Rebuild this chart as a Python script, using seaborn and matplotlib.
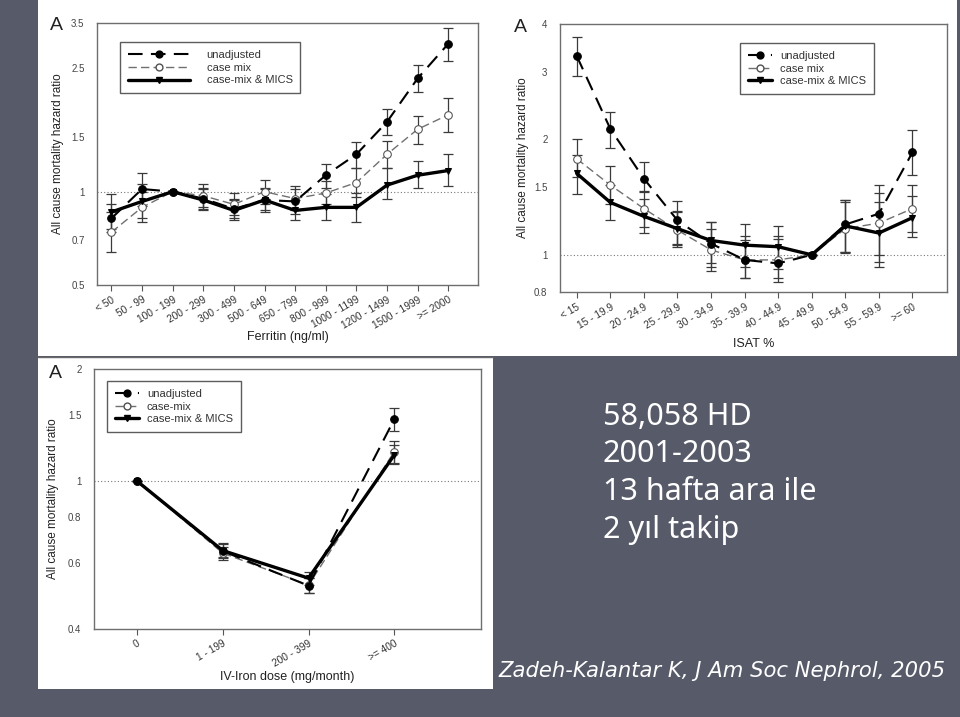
import numpy as np
import pandas as pd
import matplotlib
matplotlib.use("Agg")
import matplotlib.pyplot as plt
import seaborn as sns
from matplotlib.lines import Line2D
from matplotlib.patches import Rectangle
from matplotlib.ticker import FixedLocator, FixedFormatter, NullLocator

# ---------------- data ----------------
fer_cats = ["< 50", "50 - 99", "100 - 199", "200 - 299", "300 - 499", "500 - 649",
            "650 - 799", "800 - 999", "1000 - 1199", "1200 - 1499", "1500 - 1999", ">= 2000"]
fer_unadj = [0.82, 1.02, 1.00, 0.95, 0.88, 0.94, 0.93, 1.13, 1.32, 1.68, 2.32, 3.00]
fer_unadj_lo = [0.74, 0.90, 1.00, 0.88, 0.82, 0.86, 0.85, 1.03, 1.19, 1.52, 2.09, 2.64]
fer_unadj_hi = [0.91, 1.15, 1.00, 1.03, 0.95, 1.03, 1.02, 1.23, 1.45, 1.85, 2.56, 3.38]
fer_case = [0.74, 0.89, 1.00, 0.97, 0.91, 1.00, 0.95, 0.99, 1.07, 1.32, 1.59, 1.77]
fer_case_lo = [0.64, 0.80, 1.00, 0.89, 0.84, 0.91, 0.87, 0.91, 0.96, 1.19, 1.43, 1.56]
fer_case_hi = [0.86, 1.00, 1.00, 1.06, 0.99, 1.09, 1.04, 1.08, 1.19, 1.46, 1.76, 2.01]
fer_mics = [0.86, 0.93, 1.00, 0.94, 0.87, 0.94, 0.87, 0.89, 0.89, 1.05, 1.13, 1.17]
fer_mics_lo = [0.76, 0.82, 1.00, 0.87, 0.81, 0.87, 0.81, 0.81, 0.80, 0.95, 1.03, 1.04]
fer_mics_hi = [0.98, 1.06, 1.00, 1.02, 0.94, 1.02, 0.94, 0.98, 0.99, 1.19, 1.26, 1.32]
fer_yticks = [0.5, 0.7, 1, 1.5, 2.5, 3.5]
fer_ytick_labels = ["0.5", "0.7", "1", "1.5", "2.5", "3.5"]

isat_cats = ["< 15", "15 - 19.9", "20 - 24.9", "25 - 29.9", "30 - 34.9", "35 - 39.9",
             "40 - 44.9", "45 - 49.9", "50 - 54.9", "55 - 59.9", ">= 60"]
isat_unadj = [3.30, 2.13, 1.58, 1.23, 1.07, 0.97, 0.95, 1.00, 1.20, 1.28, 1.85]
isat_unadj_lo = [2.92, 1.90, 1.46, 1.07, 0.93, 0.87, 0.85, 1.00, 1.02, 0.93, 1.62]
isat_unadj_hi = [3.69, 2.36, 1.75, 1.38, 1.22, 1.12, 1.12, 1.00, 1.39, 1.52, 2.12]
isat_case = [1.78, 1.52, 1.32, 1.16, 1.03, 0.97, 0.97, 1.00, 1.17, 1.21, 1.32]
isat_case_lo = [1.60, 1.36, 1.18, 1.05, 0.91, 0.87, 0.87, 1.00, 1.01, 1.00, 1.15]
isat_case_hi = [2.00, 1.70, 1.47, 1.29, 1.17, 1.09, 1.10, 1.00, 1.37, 1.45, 1.52]
isat_mics = [1.63, 1.37, 1.26, 1.17, 1.09, 1.06, 1.05, 1.00, 1.19, 1.14, 1.25]
isat_mics_lo = [1.44, 1.23, 1.14, 1.06, 0.95, 0.93, 0.92, 1.00, 1.02, 0.96, 1.11]
isat_mics_hi = [1.82, 1.52, 1.40, 1.30, 1.22, 1.20, 1.19, 1.00, 1.39, 1.37, 1.42]
isat_yticks = [0.8, 1, 1.5, 2, 3, 4]
isat_ytick_labels = ["0.8", "1", "1.5", "2", "3", "4"]

iron_cats = ["0", "1 - 199", "200 - 399", ">= 400"]
iron_unadj = [1.00, 0.648, 0.523, 1.466]
iron_unadj_lo = [1.00, 0.620, 0.500, 1.360]
iron_unadj_hi = [1.00, 0.680, 0.550, 1.570]
iron_case = [1.00, 0.640, 0.525, 1.200]
iron_case_lo = [1.00, 0.615, 0.500, 1.120]
iron_case_hi = [1.00, 0.665, 0.550, 1.280]
iron_mics = [1.00, 0.650, 0.548, 1.175]
iron_mics_lo = [1.00, 0.625, 0.525, 1.110]
iron_mics_hi = [1.00, 0.675, 0.570, 1.250]
iron_yticks = [0.4, 0.6, 0.8, 1, 1.5, 2]
iron_ytick_labels = ["0.4", "0.6", "0.8", "1", "1.5", "2"]

labels_top = ["unadjusted", "case mix", "case-mix & MICS"]
labels_bottom = ["unadjusted", "case-mix", "case-mix & MICS"]
slide_lines = ["58,058 HD", "2001-2003", "13 hafta ara ile", "2 y\u0131l takip"]
citation = "Zadeh-Kalantar K, J Am Soc Nephrol, 2005"

# ---------------- style ----------------
sns.set_theme(style="white")
plt.rcParams["font.family"] = ["Liberation Sans", "DejaVu Sans"]

W, H = 960, 717
BG = "#575a69"
fig = plt.figure(figsize=(W / 100, H / 100), dpi=100)
fig.patch.set_facecolor(BG)


def px_rect(x0, y0, x1, y1):
    return [x0 / W, 1 - y1 / H, (x1 - x0) / W, (y1 - y0) / H]


# white picture panels
for (x0, y0, x1, y1) in [(38, 0, 957, 356), (38, 357, 493, 689)]:
    r = px_rect(x0, y0, x1, y1)
    fig.add_artist(Rectangle((r[0], r[1]), r[2], r[3], transform=fig.transFigure,
                             facecolor="white", edgecolor="none", zorder=-5))
fig.add_artist(Line2D([38 / W, 493 / W], [1 - 356.5 / H] * 2, transform=fig.transFigure,
                      color="#6a6a6a", lw=1.0, zorder=-4))

STY = {
    "unadj": dict(color="black", lw=1.5, ls=(0, (7, 4)), marker="o", ms=5.5,
                  mfc="black", mec="black", z=4),
    "case": dict(color="#707070", lw=1.0, ls=(0, (6, 3)), marker="o", ms=5.5,
                 mfc="white", mec="#505050", z=3),
    "mics": dict(color="black", lw=2.4, ls="-", marker="v", ms=4.5,
                 mfc="black", mec="black", z=5),
}


def draw_series(ax, y, lo, hi, key):
    s = STY[key]
    x = np.arange(len(y))
    df = pd.DataFrame({"x": x, "y": y})
    sns.lineplot(data=df, x="x", y="y", ax=ax, color=s["color"], linewidth=s["lw"],
                 linestyle=s["ls"], marker=s["marker"], markersize=s["ms"],
                 markerfacecolor=s["mfc"], markeredgecolor=s["mec"], zorder=s["z"],
                 legend=False, errorbar=None)
    y = np.asarray(y)
    ax.errorbar(x, y, yerr=[y - np.asarray(lo), np.asarray(hi) - y], fmt="none",
                ecolor="#3a3a3a", elinewidth=0.9, capsize=3.5, capthick=0.9, zorder=2)


def setup_axes(ax, cats, yticks, ylabels, ylim, xlim, xlabel, xlab_y, ylab_x, rot):
    ax.set_yscale("log")
    ax.set_ylim(*ylim)
    ax.set_xlim(*xlim)
    ax.yaxis.set_major_locator(FixedLocator(yticks))
    ax.yaxis.set_major_formatter(FixedFormatter(ylabels))
    ax.yaxis.set_minor_locator(NullLocator())
    ax.set_xticks(np.arange(len(cats)))
    ax.set_xticklabels(cats, rotation=rot, ha="right", rotation_mode="anchor")
    ax.tick_params(axis="x", which="major", direction="out", length=4, width=0.8,
                   color="#555555", labelsize=7.3, labelcolor="#333333", pad=3, bottom=True)
    ax.tick_params(axis="y", which="major", direction="out", length=0, labelsize=7,
                   labelcolor="#444444", pad=9, left=True)
    for sp in ax.spines.values():
        sp.set_color("#6e6e6e")
        sp.set_linewidth(1.0)
    ax.axhline(1.0, color="#777777", lw=0.8, ls=(0, (1, 2)), zorder=1)
    ax.set_xlabel(xlabel, fontsize=9, color="#222222")
    ax.xaxis.set_label_coords(0.5, xlab_y)
    ax.set_ylabel("All cause mortality hazard ratio", fontsize=8.5, color="#222222")
    ax.yaxis.set_label_coords(ylab_x, 0.5)


def add_legend(ax, labels, anchor, handlelength, handletextpad, fontsize):
    hs = []
    for key in ["unadj", "case", "mics"]:
        s = STY[key]
        hs.append(Line2D([], [], color=s["color"], lw=s["lw"], ls=s["ls"], marker=s["marker"],
                         ms=s["ms"], mfc=s["mfc"], mec=s["mec"]))
    leg = ax.legend(hs, labels, loc="upper left", bbox_to_anchor=anchor, frameon=True,
                    fancybox=False, edgecolor="#333333", fontsize=fontsize,
                    handlelength=handlelength, handletextpad=handletextpad,
                    labelspacing=0.25, borderpad=0.7, borderaxespad=0.0, markerscale=0.9)
    leg.get_frame().set_linewidth(1.0)
    for t in leg.get_texts():
        t.set_color("#333333")


# ---- panel 1 : ferritin ----
ax1 = fig.add_axes(px_rect(97, 23, 478, 285))
draw_series(ax1, fer_case, fer_case_lo, fer_case_hi, "case")
draw_series(ax1, fer_unadj, fer_unadj_lo, fer_unadj_hi, "unadj")
draw_series(ax1, fer_mics, fer_mics_lo, fer_mics_hi, "mics")
setup_axes(ax1, fer_cats, fer_yticks, fer_ytick_labels, (0.5, 3.5), (-0.47, 11.97),
           "Ferritin (ng/ml)", -0.175, -0.087, 30)
add_legend(ax1, labels_top, (0.060, 0.927), 5.6, 1.5, 8)
fig.text(56 / W, 1 - 25 / H, "A", fontsize=14, ha="center", va="center", color="#222222")

# ---- panel 2 : ISAT ----
ax2 = fig.add_axes(px_rect(560, 24, 947, 292))
draw_series(ax2, isat_case, isat_case_lo, isat_case_hi, "case")
draw_series(ax2, isat_unadj, isat_unadj_lo, isat_unadj_hi, "unadj")
draw_series(ax2, isat_mics, isat_mics_lo, isat_mics_hi, "mics")
setup_axes(ax2, isat_cats, isat_yticks, isat_ytick_labels, (0.8, 4.0), (-0.5, 11.03),
           "ISAT %", -0.17, -0.08, 30)
add_legend(ax2, labels_top, (0.465, 0.929), 2.2, 0.7, 8)
fig.text(520 / W, 1 - 28 / H, "A", fontsize=14, ha="center", va="center", color="#222222")

# ---- panel 3 : IV iron ----
ax3 = fig.add_axes(px_rect(94, 369, 481, 629))
draw_series(ax3, iron_case, iron_case_lo, iron_case_hi, "case")
draw_series(ax3, iron_unadj, iron_unadj_lo, iron_unadj_hi, "unadj")
draw_series(ax3, iron_mics, iron_mics_lo, iron_mics_hi, "mics")
setup_axes(ax3, iron_cats, iron_yticks, iron_ytick_labels, (0.4, 2.0), (-0.5, 4.01),
           "IV-Iron dose (mg/month)", -0.16, -0.09, 30)
add_legend(ax3, labels_bottom, (0.033, 0.954), 2.2, 0.7, 8)
fig.text(55 / W, 1 - 373 / H, "A", fontsize=14, ha="center", va="center", color="#222222")

# ---- slide text ----
baselines = [425, 462, 500, 538]
for txt, yb in zip(slide_lines, baselines):
    fig.text(603 / W, 1 - yb / H, txt, color="white", fontsize=22,
             family=["Noto Sans", "DejaVu Sans"], va="baseline", ha="left")
fig.text(498 / W, 1 - 677 / H, citation, color="white", fontsize=15.2, style="italic",
         family=["DejaVu Sans"], va="baseline", ha="left")

fig.savefig("out.png", dpi=100, facecolor=fig.get_facecolor())
